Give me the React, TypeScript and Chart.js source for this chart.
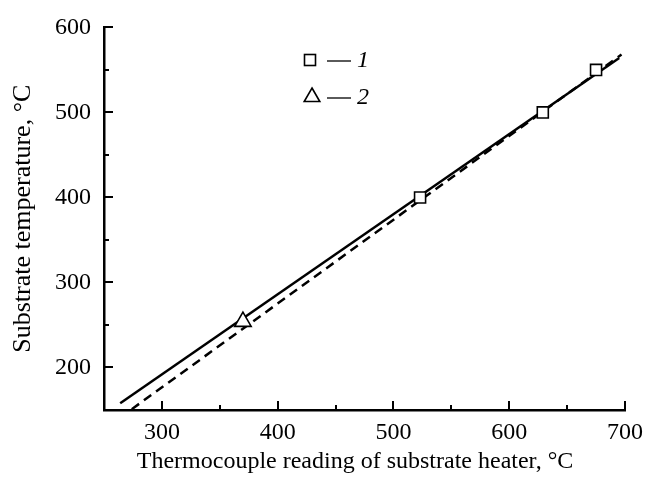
import React, { useEffect, useRef } from 'react';
import { Chart, registerables } from 'chart.js';

Chart.register(...registerables);

// ---- data ----
const series1X = [523, 629, 675];
const series1Y = [400, 500, 550];
const series2X = [370];
const series2Y = [254];
const fitSolidX = [264, 695];
const fitSolidY = [158, 564];
const fitDashedX = [274, 697];
const fitDashedY = [151, 568];

const xMajorTicks = [300, 400, 500, 600, 700];
const xMinorTicks = [350, 450, 550, 650];
const yMajorTicks = [200, 300, 400, 500, 600];
const yMinorTicks = [250, 350, 450, 550];

const legendLabels = ['1', '2'];
const xTitle = 'Thermocouple reading of substrate heater, °C';
const yTitle = 'Substrate temperature, °C';

const FONT = "'Liberation Serif', 'DejaVu Serif', serif";

const zip = (xs: number[], ys: number[]) => xs.map((x, i) => ({ x, y: ys[i] }));

const inwardTicks = {
  id: 'inwardTicks',
  afterDraw(chart: any) {
    const { ctx, chartArea, scales } = chart;
    const { left, bottom } = chartArea;
    const x = scales.x;
    const y = scales.y;
    ctx.save();
    ctx.strokeStyle = '#000';
    ctx.lineWidth = 2;
    const tx = (v: number, len: number) => {
      const px = Math.round(x.getPixelForValue(v));
      ctx.beginPath();
      ctx.moveTo(px, bottom);
      ctx.lineTo(px, bottom - len);
      ctx.stroke();
    };
    const ty = (v: number, len: number) => {
      const py = Math.round(y.getPixelForValue(v));
      ctx.beginPath();
      ctx.moveTo(left, py);
      ctx.lineTo(left + len, py);
      ctx.stroke();
    };
    xMajorTicks.forEach((v) => tx(v, 9));
    xMinorTicks.forEach((v) => tx(v, 5));
    yMajorTicks.forEach((v) => ty(v, 9));
    yMinorTicks.forEach((v) => ty(v, 5));
    ctx.restore();
  },
};

// x-axis title, drawn slightly left of the axis centre as in the reference
const xAxisTitle = {
  id: 'xAxisTitle',
  afterDraw(chart: any) {
    const { ctx } = chart;
    ctx.save();
    ctx.fillStyle = '#000';
    ctx.font = `24px ${FONT}`;
    ctx.textAlign = 'center';
    ctx.textBaseline = 'middle';
    ctx.fillText(xTitle, 355, 462);
    ctx.restore();
  },
};

const innerLegend = {
  id: 'innerLegend',
  afterDraw(chart: any) {
    const { ctx } = chart;
    ctx.save();
    ctx.strokeStyle = '#000';
    ctx.fillStyle = '#fff';
    ctx.lineWidth = 1.6;
    // square
    const sx = 310, sy = 60, half = 5.5;
    ctx.fillRect(sx - half, sy - half, half * 2, half * 2);
    ctx.strokeRect(sx - half, sy - half, half * 2, half * 2);
    // triangle
    const txc = 312, tyc = 97, r = 9;
    ctx.beginPath();
    ctx.moveTo(txc, tyc - r);
    ctx.lineTo(txc + r * 0.866, tyc + r * 0.5);
    ctx.lineTo(txc - r * 0.866, tyc + r * 0.5);
    ctx.closePath();
    ctx.fill();
    ctx.stroke();
    // dashes
    ctx.lineWidth = 1.3;
    [61, 98].forEach((yy) => {
      ctx.beginPath();
      ctx.moveTo(327, yy);
      ctx.lineTo(351, yy);
      ctx.stroke();
    });
    ctx.fillStyle = '#000';
    ctx.font = `italic 24px ${FONT}`;
    ctx.textBaseline = 'middle';
    ctx.textAlign = 'left';
    ctx.fillText(legendLabels[0], 357, 61);
    ctx.fillText(legendLabels[1], 357, 98);
    ctx.restore();
  },
};

export default function App() {
  const ref = useRef<HTMLCanvasElement | null>(null);

  useEffect(() => {
    if (!ref.current) return;
    const chart = new Chart(ref.current, {
      type: 'scatter',
      data: {
        datasets: [
          {
            label: legendLabels[0],
            data: zip(series1X, series1Y),
            pointStyle: 'rect',
            pointRadius: 7.8,
            pointBorderWidth: 1.6,
            pointBackgroundColor: '#fff',
            pointBorderColor: '#000',
            showLine: false,
          },
          {
            label: legendLabels[1],
            data: zip(series2X, series2Y),
            pointStyle: 'triangle',
            pointRadius: 9.5,
            pointBorderWidth: 1.6,
            pointBackgroundColor: '#fff',
            pointBorderColor: '#000',
            showLine: false,
          },
          {
            label: 'fit 1',
            data: zip(fitSolidX, fitSolidY),
            showLine: true,
            pointRadius: 0,
            borderColor: '#000',
            borderWidth: 2.5,
          },
          {
            label: 'fit 2',
            data: zip(fitDashedX, fitDashedY),
            showLine: true,
            pointRadius: 0,
            borderColor: '#000',
            borderWidth: 2.5,
            borderDash: [9, 6],
          },
        ],
      },
      options: {
        responsive: false,
        animation: false,
        layout: { padding: { top: 20, right: 23, left: 0, bottom: 0 } },
        plugins: {
          legend: { display: false },
          tooltip: { enabled: false },
        },
        scales: {
          x: {
            type: 'linear',
            min: 250,
            max: 700,
            afterBuildTicks: (s: any) => {
              s.ticks = xMajorTicks.map((v) => ({ value: v }));
            },
            afterFit: (s: any) => {
              s.height = 70;
            },
            ticks: {
              color: '#000',
              font: { family: FONT, size: 24 },
              padding: 8,
              maxRotation: 0,
            },
            grid: { display: false, drawTicks: false },
            border: { display: true, color: '#000', width: 2.5 },
            title: { display: false, text: xTitle },
          },
          y: {
            type: 'linear',
            min: 150,
            max: 600,
            afterBuildTicks: (s: any) => {
              s.ticks = yMajorTicks.map((v) => ({ value: v }));
            },
            afterFit: (s: any) => {
              s.width = 104;
            },
            ticks: {
              color: '#000',
              font: { family: FONT, size: 24 },
              padding: 13,
            },
            grid: { display: false, drawTicks: false },
            border: { display: true, color: '#000', width: 2.5 },
            title: {
              display: true,
              text: yTitle,
              color: '#000',
              font: { family: FONT, size: 26 },
              padding: { top: 7.4, bottom: 0 },
            },
          },
        },
      },
      plugins: [inwardTicks, xAxisTitle, innerLegend],
    });
    return () => chart.destroy();
  }, []);

  return (
    <div style={{ position: 'absolute', left: 0, top: 0, width: 651, height: 480, background: '#fff' }}>
      <canvas ref={ref} width={651} height={480} style={{ display: 'block' }} />
    </div>
  );
}
